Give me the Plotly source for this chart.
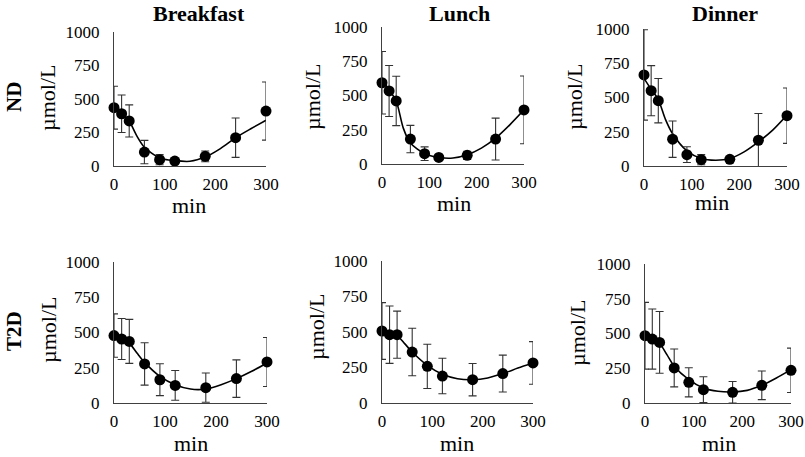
import plotly.graph_objects as go

W, H = 805, 457

# ---------------- data ----------------
times = [0, 15, 30, 60, 90, 120, 180, 240, 300]
trend_times = [0, 15, 30, 45, 60, 90, 120, 150, 180, 210, 240, 270, 300]

nd_breakfast = [435, 390, 336, 104, 47, 37, 72, 211, 410]
nd_breakfast_err = [160, 140, 120, 87, 38, 15, 40, 147, 217]
nd_breakfast_trend = [465, 400, 336, 225, 140, 60, 40, 35, 67, 130, 211, 278, 341]

nd_lunch = [593, 533, 460, 182, 75, 48, 63, 182, 395]
nd_lunch_err = [228, 186, 180, 100, 50, 20, 30, 153, 247]
nd_lunch_trend = [620, 540, 460, 262, 153, 75, 48, 44, 68, 116, 189, 286, 395]

nd_dinner = [665, 550, 477, 196, 83, 46, 49, 188, 367]
nd_dinner_err = [330, 183, 162, 133, 57, 37, 15, 195, 202]
nd_dinner_trend = [640, 560, 485, 340, 235, 110, 55, 42, 54, 103, 176, 262, 372]

t2d_breakfast = [478, 454, 437, 277, 165, 125, 109, 173, 291]
t2d_breakfast_err = [154, 145, 156, 150, 113, 106, 104, 133, 174]
t2d_breakfast_trend = [475, 460, 425, 355, 288, 189, 130, 99, 99, 130, 173, 225, 284]

t2d_lunch = [507, 481, 481, 359, 258, 190, 164, 207, 282]
t2d_lunch_err = [200, 202, 166, 167, 156, 125, 114, 130, 150]
t2d_lunch_trend = [505, 495, 475, 418, 359, 265, 202, 171, 164, 176, 207, 246, 282]

t2d_dinner = [484, 460, 436, 252, 149, 96, 77, 127, 235]
t2d_dinner_err = [240, 216, 222, 136, 105, 93, 78, 103, 160]
t2d_dinner_trend = [490, 470, 430, 348, 264, 168, 108, 84, 79, 91, 127, 180, 240]

meals = ["Breakfast", "Lunch", "Dinner"]
groups = ["ND", "T2D"]
y_ticks = [0, 250, 500, 750, 1000]
x_ticks = [0, 100, 200, 300]
y_title = "µmol/L"
x_title = "min"

panels = [
    (nd_breakfast, nd_breakfast_err, nd_breakfast_trend),
    (nd_lunch, nd_lunch_err, nd_lunch_trend),
    (nd_dinner, nd_dinner_err, nd_dinner_trend),
    (t2d_breakfast, t2d_breakfast_err, t2d_breakfast_trend),
    (t2d_lunch, t2d_lunch_err, t2d_lunch_trend),
    (t2d_dinner, t2d_dinner_err, t2d_dinner_trend),
]

# ---------------- layout geometry (pixels) ----------------
boxes = [
    (114, 266, 32, 166),
    (382, 524, 27, 164),
    (644, 787, 29, 166),
    (114, 267, 262, 403),
    (382, 533, 261, 403),
    (645, 791, 264, 403),
]

FONT = "Liberation Serif"

fig = go.Figure()
layout = dict(
    width=W, height=H, autosize=False,
    margin=dict(l=0, r=0, t=0, b=0, pad=0, autoexpand=False),
    paper_bgcolor="white", plot_bgcolor="white",
    showlegend=False,
    font=dict(family=FONT, color="black", size=17),
)

for i, ((vals, errs, trend), (x0, x1, yt, yb)) in enumerate(zip(panels, boxes)):
    n = "" if i == 0 else str(i + 1)
    xa, ya = "x" + n, "y" + n
    fig.add_trace(go.Scatter(
        x=trend_times, y=trend, mode="lines", line=dict(color="black", width=1.6, shape="spline", smoothing=0.8),
        xaxis=xa, yaxis=ya, cliponaxis=False, hoverinfo="skip"))
    fig.add_trace(go.Scatter(
        x=times, y=vals, mode="markers",
        marker=dict(color="black", size=11),
        error_y=dict(type="data", array=errs, visible=True, color="#333333", thickness=1.1, width=4),
        xaxis=xa, yaxis=ya, cliponaxis=False))
    layout["xaxis" + n] = dict(
        domain=[x0 / W, x1 / W], anchor=ya, range=[0, 300],
        tickvals=x_ticks, showgrid=False, zeroline=False,
        showline=True, linecolor="#404040", linewidth=1.2,
        ticks="outside", ticklen=0, ticklabelstandoff=2, automargin=False,
        tickfont=dict(family=FONT, size=17, color="black"), fixedrange=True)
    layout["yaxis" + n] = dict(
        domain=[1 - yb / H, 1 - yt / H], anchor=xa, range=[0, 1000],
        tickvals=y_ticks, showgrid=False, zeroline=False,
        showline=True, linecolor="#404040", linewidth=1.2,
        ticks="outside", ticklen=0, ticklabelstandoff=10, automargin=False,
        tickfont=dict(family=FONT, size=17, color="black"), fixedrange=True)

annotations = []
def ann(text, x, y, size, bold=False, angle=0):
    annotations.append(dict(
        text=("<b>%s</b>" % text) if bold else text,
        x=x / W, y=1 - y / H, xref="paper", yref="paper",
        xanchor="center", yanchor="middle", showarrow=False, textangle=angle,
        font=dict(family=FONT, size=size, color="black")))

title_pos = [(199, 13), (459, 13), (725, 13)]
for m, (tx, ty) in zip(meals, title_pos):
    ann(m, tx, ty, 22, bold=True)

ann(groups[0], 14, 97, 21, bold=True, angle=-90)
ann(groups[1], 14, 331, 21, bold=True, angle=-90)

ytitle_pos = [(48, 98), (312, 97), (574, 97), (48, 330), (316, 327), (577, 333)]
for (tx, ty) in ytitle_pos:
    ann(y_title, tx, ty, 22, angle=-90)

xtitle_pos = [(189, 205), (454, 204), (712, 202), (191, 443), (457, 443), (719, 443)]
for (tx, ty) in xtitle_pos:
    ann(x_title, tx, ty, 22)

layout["annotations"] = annotations
fig.update_layout(**layout)
fig.write_html(
    "out.html",
    config={"displayModeBar": False, "staticPlot": True},
    post_script="document.body.style.margin='0';document.body.style.padding='0';document.body.style.overflow='hidden';",
)
